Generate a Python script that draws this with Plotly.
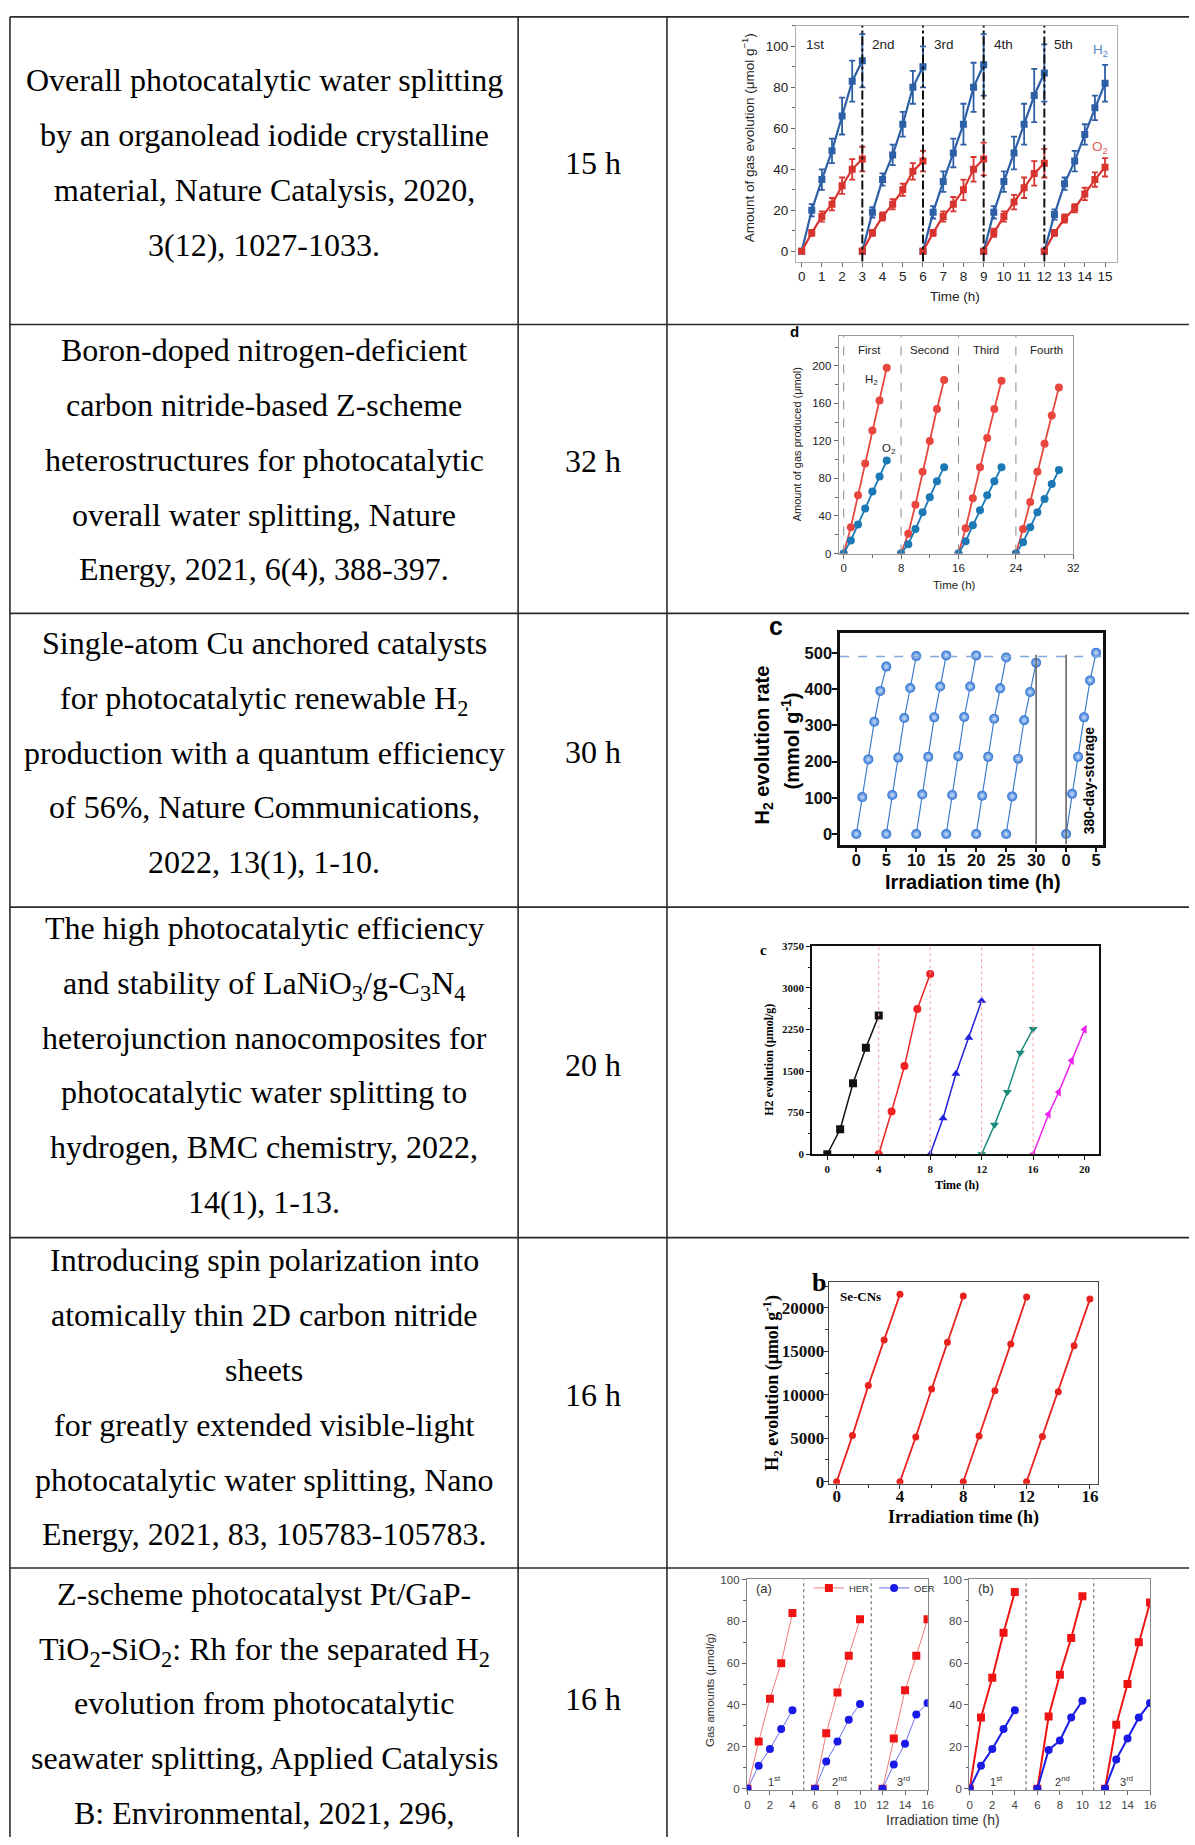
import plotly.graph_objects as go

W, H = 1195, 1845
def px(x): return x / W
def py(y): return 1 - y / H

SERIF = "Liberation Serif, Times New Roman, serif"
SANS = "Liberation Sans, Arial, Helvetica, sans-serif"

# ---------------- table content ----------------
ROW_TEXT = [
    ["Overall photocatalytic water splitting", "by an organolead iodide crystalline",
     "material, Nature Catalysis, 2020,", "3(12), 1027-1033."],
    ["Boron-doped nitrogen-deficient", "carbon nitride-based Z-scheme",
     "heterostructures for photocatalytic", "overall water splitting, Nature",
     "Energy, 2021, 6(4), 388-397."],
    ["Single-atom Cu anchored catalysts", "for photocatalytic renewable H<sub>2</sub>",
     "production with a quantum efficiency", "of 56%, Nature Communications,",
     "2022, 13(1), 1-10."],
    ["The high photocatalytic efficiency", "and stability of LaNiO<sub>3</sub>/g-C<sub>3</sub>N<sub>4</sub>",
     "heterojunction nanocomposites for", "photocatalytic water splitting to",
     "hydrogen, BMC chemistry, 2022,", "14(1), 1-13."],
    ["Introducing spin polarization into", "atomically thin 2D carbon nitride", "sheets",
     "for greatly extended visible-light", "photocatalytic water splitting, Nano",
     "Energy, 2021, 83, 105783-105783."],
    ["Z-scheme photocatalyst Pt/GaP-", "TiO<sub>2</sub>-SiO<sub>2</sub>: Rh for the separated H<sub>2</sub>",
     "evolution from photocatalytic", "seawater splitting, Applied Catalysis",
     "B: Environmental, 2021, 296,"],
]
DURATIONS = ["15 h", "32 h", "30 h", "20 h", "16 h", "16 h"]

# ---------------- chart 1 (Nature Catalysis) ----------------
C1_TIME = [[0, 0.5, 1, 1.5, 2, 2.5, 3], [3, 3.5, 4, 4.5, 5, 5.5, 6], [6, 6.5, 7, 7.5, 8, 8.5, 9],
           [9, 9.5, 10, 10.5, 11, 11.5, 12], [12, 12.5, 13, 13.5, 14, 14.5, 15]]
C1_H2 = [[0, 20, 35, 49, 66, 83, 93], [0, 19, 35, 47, 62, 80, 90], [0, 19, 34, 48, 62, 80, 91],
         [0, 19, 34, 48, 62, 76, 87], [0, 18, 33, 44, 57, 70, 82]]
C1_H2_ERR = [[0, 3, 5, 6, 9, 10, 13], [0, 2.5, 3, 5, 6, 8, 10], [0, 3, 5, 7, 10, 12, 15],
             [0, 3, 5, 8, 10, 13, 14], [0, 2.5, 3, 5, 5, 6, 9]]
C1_O2 = [[0, 9, 17, 23, 32, 40, 45], [0, 9, 17, 23, 30, 39, 44], [0, 9, 17, 23, 30, 40, 45],
         [0, 9, 17, 24, 31, 38, 43], [0, 9, 16, 21, 28, 35, 41]]
C1_O2_ERR = [[0, 1.5, 2.5, 3, 4, 5, 6], [0, 1.5, 2, 2.5, 3, 4, 5], [0, 1.5, 2.5, 3.5, 5, 6, 8],
             [0, 2, 2.5, 3.5, 5, 6, 7], [0, 1.5, 2, 2, 3, 3.5, 4.5]]
C1_DIVIDERS = [3, 6, 9, 12]
C1_CYCLE_LABELS = ["1st", "2nd", "3rd", "4th", "5th"]
C1_CYCLE_LABEL_X = [0.1, 3.4, 6.45, 9.42, 12.4]

# ---------------- chart 2 (Nature Energy) ----------------
C2_TIME = [[0, 1, 2, 3, 4, 5, 6], [8, 9, 10, 11, 12, 13, 14], [16, 17, 18, 19, 20, 21, 22],
           [24, 25, 26, 27, 28, 29, 30]]
C2_H2 = [[0, 28, 62, 96, 131, 163, 198], [0, 21, 52, 87, 120, 154, 185],
         [0, 27, 59, 92, 123, 154, 184], [0, 26, 55, 87, 117, 147, 177]]
C2_O2 = [[0, 14, 31, 48, 66, 82, 99], [0, 10, 26, 44, 60, 77, 92],
         [0, 13, 30, 46, 62, 77, 92], [0, 12, 28, 44, 58, 74, 89]]
C2_DIVIDERS = [0, 8, 16, 24]
C2_CYCLE_LABELS = ["First", "Second", "Third", "Fourth"]
C2_CYCLE_LABEL_X = [3.6, 11.9, 19.9, 28.2]

# ---------------- chart 3 (Nature Communications) ----------------
C3_TIME = [[0, 1, 2, 3, 4, 5], [5, 6, 7, 8, 9, 10], [10, 11, 12, 13, 14, 15], [15, 16, 17, 18, 19, 20],
           [20, 21, 22, 23, 24, 25], [25, 26, 27, 28, 29, 30], [35, 36, 37, 38, 39, 40]]
C3_RATE = [[0, 102, 206, 310, 395, 462], [0, 108, 211, 320, 403, 491], [0, 109, 213, 322, 407, 493],
           [0, 108, 215, 323, 407, 493], [0, 106, 213, 318, 402, 487], [0, 104, 208, 314, 392, 473],
           [0, 111, 213, 322, 424, 500]]
C3_TICKVALS = [0, 5, 10, 15, 20, 25, 30, 35, 40]
C3_TICKTEXT = ["0", "5", "10", "15", "20", "25", "30", "0", "5"]
C3_REFERENCE = 490
C3_BREAKS = [30, 35]

# ---------------- chart 4 (BMC chemistry) ----------------
C4_TIME = [[0, 1, 2, 3, 4], [4, 5, 6, 7, 8], [8, 9, 10, 11, 12], [12, 13, 14, 15, 16], [16, 17.2, 18, 19, 20]]
C4_H2 = [[0, 450, 1280, 1920, 2500], [0, 770, 1590, 2620, 3250], [0, 650, 1450, 2100, 2770],
         [0, 530, 1120, 1830, 2260], [0, 720, 1120, 1690, 2250]]
C4_DIVIDERS = [4, 8, 12, 16]

# ---------------- chart 5 (Nano Energy) ----------------
C5_TIME = [[0, 1, 2, 3, 4], [4, 5, 6, 7, 8], [8, 9, 10, 11, 12], [12, 13, 14, 15, 16]]
C5_H2 = [[0, 5300, 11050, 16300, 21550], [0, 5150, 10650, 16050, 21350],
         [0, 5250, 10450, 15850, 21250], [0, 5200, 10350, 15650, 21000]]

# ---------------- chart 6 (Applied Catalysis B) ----------------
C6_TIME = [[0, 1, 2, 3, 4], [6, 7, 8, 9, 10], [12, 13, 14, 15, 16]]
C6A_HER = [[0, 22.5, 43, 60, 84], [0, 26.5, 46, 63.5, 81], [0, 24, 47, 63.5, 81]]
C6A_OER = [[0, 11, 19, 28.5, 37.5], [0, 13, 22.5, 33, 40.5], [0, 11.5, 21.5, 35.5, 41]]
C6B_HER = [[0, 34, 53, 74.5, 94], [0, 34.5, 54.5, 72, 92], [0, 30.5, 50, 70, 89]]
C6B_OER = [[0, 11, 19, 28.5, 37.5], [0, 18.5, 23, 34, 42], [0, 14, 24, 34, 41]]
C6_DIVIDERS = [5, 11]
C6_CYCLE_LABELS = ["1<sup>st</sup>", "2<sup>nd</sup>", "3<sup>rd</sup>"]
C6_CYCLE_LABEL_X = [2.4, 8.2, 13.9]

# ======================================================================
fig = go.Figure()
annotations = []
shapes = []
layout_axes = {}


def ref(i):
    return ("x", "y") if i == 1 else (f"x{i}", f"y{i}")


def add_ann(text, x, y, size, family=SERIF, color="#000", xref="paper", yref="paper",
            angle=0, xanchor="center", yanchor="middle", weight="normal"):
    if xref == "paper":
        x = px(x)
    if yref == "paper":
        y = py(y)
    annotations.append(dict(text=text, x=x, y=y, xref=xref, yref=yref, showarrow=False,
                            textangle=angle, xanchor=xanchor, yanchor=yanchor,
                            font=dict(size=size, family=family, color=color, weight=weight)))


def set_axes(i, box, xr, yr, xkw, ykw):
    l, t, r, b = box
    xn = "xaxis" if i == 1 else f"xaxis{i}"
    yn = "yaxis" if i == 1 else f"yaxis{i}"
    xa, ya = ref(i)
    layout_axes[xn] = dict(domain=[px(l), px(r)], range=xr, anchor=ya, showgrid=False,
                           zeroline=False, showline=True, mirror=True, **xkw)
    layout_axes[yn] = dict(domain=[py(b), py(t)], range=yr, anchor=xa, showgrid=False,
                           zeroline=False, showline=True, mirror=True, **ykw)


def vline(i, x, color, dash, width, y0=0, y1=1, yref_domain=True):
    xa, ya = ref(i)
    shapes.append(dict(type="line", xref=xa, yref=(ya + " domain") if yref_domain else ya,
                       x0=x, x1=x, y0=y0, y1=y1, line=dict(color=color, dash=dash, width=width)))


# ---------------- table grid ----------------
ROW_LINES = [11, 321, 612, 908, 1241, 1574]
COL_LINES = [7, 519, 669]
for y in ROW_LINES:
    shapes.append(dict(type="line", xref="paper", yref="paper", x0=px(7), x1=1.0, y0=py(y), y1=py(y),
                       line=dict(color="#2a2a2a", width=1.6)))
for x in COL_LINES:
    shapes.append(dict(type="line", xref="paper", yref="paper", x0=px(x), x1=px(x), y0=py(11), y1=0,
                       line=dict(color="#2a2a2a", width=1.6)))

FIRST_LINE_Y = [75, 347, 642, 929, 1264, 1600]
DURATION_Y = [158, 458, 751.5, 1066.6, 1400, 1706]
LINE_GAP = 55.2
for r, lines in enumerate(ROW_TEXT):
    for k, t in enumerate(lines):
        shift = 3 if "<sub>" in t else 0
        add_ann(t, 263, FIRST_LINE_Y[r] + k * LINE_GAP + shift, 32)
    add_ann(DURATIONS[r], 594, DURATION_Y[r], 32)

# ---------------- chart 1 ----------------
i = 1
xa, ya = ref(i)
BLUE1, RED1 = "#2d5fa6", "#d8342f"
for k in range(len(C1_TIME)):
    fig.add_trace(go.Scatter(x=C1_TIME[k], y=C1_H2[k], xaxis=xa, yaxis=ya, mode="lines+markers",
                             line=dict(color=BLUE1, width=2.2), showlegend=False,
                             marker=dict(symbol="square", size=7, color=BLUE1),
                             error_y=dict(type="data", array=C1_H2_ERR[k], color=BLUE1, thickness=1.8, width=3)))
    fig.add_trace(go.Scatter(x=C1_TIME[k], y=C1_O2[k], xaxis=xa, yaxis=ya, mode="lines+markers",
                             line=dict(color=RED1, width=2.2), showlegend=False,
                             marker=dict(symbol="square", size=7, color=RED1),
                             error_y=dict(type="data", array=C1_O2_ERR[k], color=RED1, thickness=1.8, width=3)))
f1 = dict(size=13.5, family=SANS, color="#222")
set_axes(i, (799, 20, 1122, 257.5), [-0.28, 15.57], [-5, 110],
         dict(tickmode="linear", tick0=0, dtick=1, ticks="outside", ticklen=4, tickcolor="#666",
              linecolor="#b0b0b0", linewidth=1, tickfont=f1, ticklabelstandoff=-2),
         dict(tickmode="linear", tick0=0, dtick=20, ticks="outside", ticklen=4, tickcolor="#666",
              linecolor="#b0b0b0", linewidth=1, tickfont=f1,
              minor=dict(ticks="outside", dtick=10, ticklen=3, tickcolor="#666")))
for d in C1_DIVIDERS:
    vline(i, d, "#111", "dashdot", 2)
for lab, lx in zip(C1_CYCLE_LABELS, C1_CYCLE_LABEL_X):
    add_ann(lab, lx, 101, 13.5, family=SANS, color="#222", xref=xa, yref=ya, xanchor="left")
add_ann("H<sub>2</sub>", 14.3, 98, 13.5, family=SANS, color="#5a86c0", xref=xa, yref=ya, xanchor="left")
add_ann("O<sub>2</sub>", 14.25, 50.5, 13.5, family=SANS, color="#e06060", xref=xa, yref=ya, xanchor="left")
add_ann("Amount of gas evolution (μmol g<sup>−1</sup>)", 751, 133, 13.5, family=SANS, color="#222", angle=-90)
add_ann("Time (h)", 959, 293, 13.5, family=SANS, color="#222")

# ---------------- chart 2 ----------------
i = 2
xa, ya = ref(i)
RED2, BLUE2 = "#e8463f", "#1b79b6"
for k in range(len(C2_TIME)):
    fig.add_trace(go.Scatter(x=C2_TIME[k], y=C2_H2[k], xaxis=xa, yaxis=ya, mode="lines+markers",
                             line=dict(color=RED2, width=1.8), marker=dict(size=8, color=RED2), showlegend=False))
    fig.add_trace(go.Scatter(x=C2_TIME[k], y=C2_O2[k], xaxis=xa, yaxis=ya, mode="lines+markers",
                             line=dict(color=BLUE2, width=1.8), marker=dict(size=8, color=BLUE2), showlegend=False))
f2 = dict(size=11.5, family=SANS, color="#222")
set_axes(i, (842, 332.3, 1078.4, 551.7), [-0.7, 32], [0, 232],
         dict(tickmode="linear", tick0=0, dtick=8, ticks="outside", ticklen=4, tickcolor="#666",
              linecolor="#999", linewidth=1, tickfont=f2,
              minor=dict(ticks="outside", dtick=4, ticklen=3, tickcolor="#666")),
         dict(tickmode="linear", tick0=0, dtick=40, ticks="outside", ticklen=4, tickcolor="#666",
              linecolor="#999", linewidth=1, tickfont=f2,
              minor=dict(ticks="outside", dtick=20, ticklen=3, tickcolor="#666")))
for d in C2_DIVIDERS:
    vline(i, d, "#888", "dash", 1)
for lab, lx in zip(C2_CYCLE_LABELS, C2_CYCLE_LABEL_X):
    add_ann(lab, lx, 216.5, 11.5, family=SANS, color="#222", xref=xa, yref=ya)
add_ann("H<sub>2</sub>", 3.9, 185, 11.5, family=SANS, color="#222", xref=xa, yref=ya)
add_ann("O<sub>2</sub>", 6.3, 111, 11.5, family=SANS, color="#222", xref=xa, yref=ya)
add_ann("d", 798, 328, 15, family=SANS, weight="bold")
add_ann("Amount of gas produced (μmol)", 800, 441.7, 11, family=SANS, color="#222", angle=-90)
add_ann("Time (h)", 959, 583.3, 11.5, family=SANS, color="#222")

# ---------------- chart 3 ----------------
i = 3
xa, ya = ref(i)
BLUE3 = "#2a6fd1"
for k in range(len(C3_TIME)):
    fig.add_trace(go.Scatter(x=C3_TIME[k], y=C3_RATE[k], xaxis=xa, yaxis=ya, mode="lines+markers",
                             line=dict(color="#3d7cc9", width=1.2), showlegend=False,
                             marker=dict(size=10, color=BLUE3, gradient=dict(type="radial", color="#cfe2fb"),
                                         line=dict(width=0))))
f3 = dict(size=16.5, family=SANS, color="#111", weight="bold")
set_axes(i, (843.5, 631.7, 1108.6, 845), [-2.7, 41.2], [-29, 555],
         dict(tickmode="array", tickvals=C3_TICKVALS, ticktext=C3_TICKTEXT, ticks="outside", ticklen=5,
              tickwidth=2, tickcolor="#111", linecolor="#111", linewidth=2.5, tickfont=f3,
              ticklabelstandoff=-6),
         dict(tickmode="linear", tick0=0, dtick=100, ticks="outside", ticklen=5, tickwidth=2,
              tickcolor="#111", linecolor="#111", linewidth=2.5, tickfont=f3, ticklabelstandoff=-3))
shapes.append(dict(type="line", xref=xa + " domain", yref=ya, x0=0, x1=1, y0=C3_REFERENCE, y1=C3_REFERENCE,
                   line=dict(color="#7fa8dc", dash="dash", width=1.6)))
for d in C3_BREAKS:
    vline(i, d, "#666", "solid", 1.6, y0=-29, y1=495, yref_domain=False)
add_ann("380-day-storage", 1094.5, 780, 14, family=SANS, weight="bold", angle=-90)
add_ann("c", 779, 625, 25, family=SANS, weight="bold")
add_ann("H<sub>2</sub> evolution rate", 766, 745, 20, family=SANS, weight="bold", angle=-90)
add_ann("(mmol g<sup>-1</sup>)", 793, 741, 20, family=SANS, weight="bold", angle=-90)
add_ann("Irradiation time (h)", 977, 882.5, 20, family=SANS, weight="bold")

# ---------------- chart 4 ----------------
i = 4
xa, ya = ref(i)
C4_COLORS = ["#111111", "#ee2222", "#2222dd", "#1a8a7a", "#ee22ee"]
C4_SYMBOLS = ["square", "circle", "triangle-up", "triangle-down", "triangle-left"]
for k in range(len(C4_TIME)):
    fig.add_trace(go.Scatter(x=C4_TIME[k], y=C4_H2[k], xaxis=xa, yaxis=ya, mode="lines+markers",
                             line=dict(color=C4_COLORS[k], width=1.5), showlegend=False,
                             marker=dict(symbol=C4_SYMBOLS[k], size=8, color=C4_COLORS[k])))
f4 = dict(size=11, family=SERIF, color="#111", weight="bold")
set_axes(i, (815, 947.5, 1104, 1157), [-1.2, 21.1], [0, 3750],
         dict(tickmode="linear", tick0=0, dtick=4, ticks="outside", ticklen=4, tickcolor="#111",
              linecolor="#111", linewidth=1.5, tickfont=f4,
              minor=dict(ticks="outside", dtick=2, ticklen=2.5, tickcolor="#111")),
         dict(tickmode="linear", tick0=0, dtick=750, ticks="outside", ticklen=4, tickcolor="#111",
              linecolor="#111", linewidth=1.5, tickfont=f4,
              minor=dict(ticks="outside", dtick=375, ticklen=2.5, tickcolor="#111")))
for d in C4_DIVIDERS:
    vline(i, d, "#f2a0a0", "dot", 1)
add_ann("c", 766, 951, 15, family=SERIF, weight="bold")
add_ann("H2 evolution (μmol/g)", 771, 1061.7, 12, family=SERIF, weight="bold", angle=-90)
add_ann("Time (h)", 961, 1187.7, 12, family=SERIF, weight="bold")

# ---------------- chart 5 ----------------
i = 5
xa, ya = ref(i)
RED5 = "#e8221e"
for k in range(len(C5_TIME)):
    fig.add_trace(go.Scatter(x=C5_TIME[k], y=C5_H2[k], xaxis=xa, yaxis=ya, mode="lines+markers",
                             line=dict(color=RED5, width=1.8), marker=dict(size=7, color=RED5), showlegend=False))
f5 = dict(size=17, family=SERIF, color="#111", weight="bold")
set_axes(i, (832, 1286, 1103.6, 1489), [-0.5, 16.53], [-230, 22940],
         dict(tickmode="linear", tick0=0, dtick=4, ticks="outside", ticklen=4, tickcolor="#333",
              linecolor="#444", linewidth=1.3, tickfont=f5, ticklabelstandoff=-7,
              minor=dict(ticks="outside", dtick=2, ticklen=3, tickcolor="#333")),
         dict(tickmode="linear", tick0=0, dtick=5000, ticks="outside", ticklen=4, tickcolor="#333",
              linecolor="#444", linewidth=1.3, tickfont=f5, tickformat="d", ticklabelstandoff=-4,
              minor=dict(ticks="outside", dtick=2500, ticklen=3, tickcolor="#333")))
add_ann("b", 822, 1286, 26, family=SERIF, weight="bold")
add_ann("Se-CNs", 864, 1300, 13, family=SERIF, weight="bold")
add_ann("H<sub>2</sub> evolution (μmol g<sup>-1</sup>)", 775, 1387, 18, family=SERIF, weight="bold", angle=-90)
add_ann("Irradiation time (h)", 968, 1523, 18, family=SERIF, weight="bold")

# ---------------- chart 6 (two panels) ----------------
RED6, BLUE6 = "#ee1414", "#1a1ae6"
f6 = dict(size=11.5, family=SANS, color="#444")
panels = [(6, (749.5, 1585.5, 931.8, 1798), C6A_HER, C6A_OER, 1.0, "#f07a7a", "#6a6af0", "(a)"),
          (7, (973.5, 1585.5, 1156, 1798), C6B_HER, C6B_OER, 2.0, RED6, BLUE6, "(b)")]
for i, box, her, oer, lw, lc_her, lc_oer, tag in panels:
    xa, ya = ref(i)
    for k in range(len(C6_TIME)):
        fig.add_trace(go.Scatter(x=C6_TIME[k], y=her[k], xaxis=xa, yaxis=ya, mode="lines+markers",
                                 name="HER", legendgroup="her", showlegend=(i == 6 and k == 0),
                                 line=dict(color=lc_her, width=lw),
                                 marker=dict(symbol="square", size=8, color=RED6)))
        fig.add_trace(go.Scatter(x=C6_TIME[k], y=oer[k], xaxis=xa, yaxis=ya, mode="lines+markers",
                                 name="OER", legendgroup="oer", showlegend=(i == 6 and k == 0),
                                 line=dict(color=lc_oer, width=lw),
                                 marker=dict(symbol="circle", size=8, color=BLUE6)))
    set_axes(i, box, [-0.05, 16.02], [-0.8, 100],
             dict(tickmode="linear", tick0=0, dtick=2, ticks="outside", ticklen=4, tickcolor="#666",
                  linecolor="#888", linewidth=1, tickfont=f6),
             dict(tickmode="linear", tick0=0, dtick=20, ticks="outside", ticklen=4, tickcolor="#666",
                  linecolor="#888", linewidth=1, tickfont=f6,
                  minor=dict(ticks="outside", dtick=10, ticklen=2.5, tickcolor="#666")))
    for d in C6_DIVIDERS:
        vline(i, d, "#777", "dot", 1.2)
    for lab, lx in zip(C6_CYCLE_LABELS, C6_CYCLE_LABEL_X):
        add_ann(lab, lx, 3.5, 11, family=SANS, color="#333", xref=xa, yref=ya)
    add_ann(tag, 0.6, 95.5, 13, family=SANS, color="#333", xref=xa, yref=ya, xanchor="left")
add_ann("Gas amounts (μmol/g)", 712.6, 1696.7, 11.5, family=SANS, color="#333", angle=-90)
add_ann("Irradiation time (h)", 947.5, 1827.7, 14, family=SANS, color="#333")

fig.update_layout(
    width=W, height=H, margin=dict(l=0, r=0, t=0, b=0),
    paper_bgcolor="white", plot_bgcolor="white",
    annotations=annotations, shapes=shapes,
    showlegend=True,
    legend=dict(orientation="h", x=px(812), y=py(1594), xanchor="left", yanchor="middle",
                font=dict(size=9.5, family=SANS, color="#333"), bgcolor="rgba(0,0,0,0)",
                itemwidth=30, tracegroupgap=0),
    **layout_axes,
)
fig.write_html("out.html")
